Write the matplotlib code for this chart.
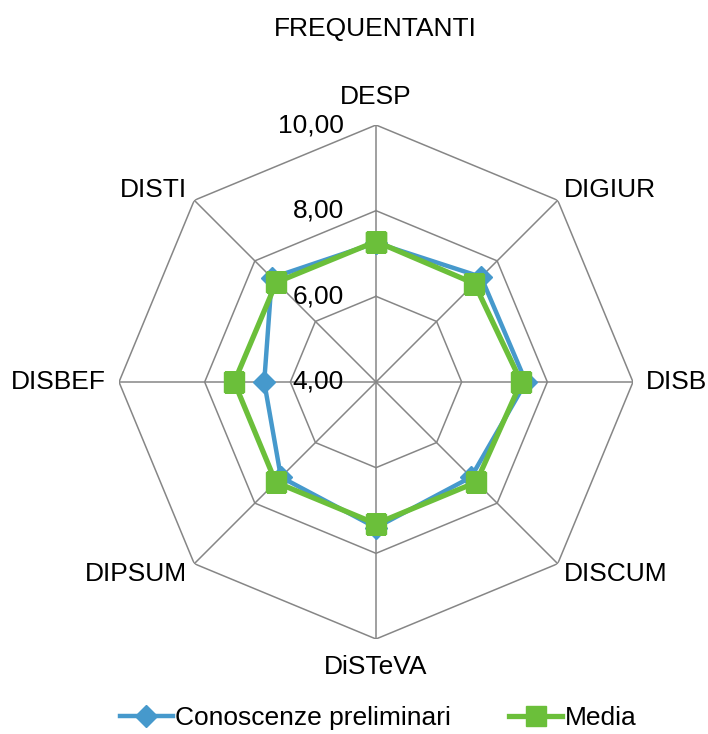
import numpy as np
import matplotlib
matplotlib.use("Agg")
import matplotlib.pyplot as plt

plt.rcParams["font.family"] = ["Liberation Sans", "DejaVu Sans"]

# data (scale 4..10)
categories = ["DESP", "DIGIUR", "DISB", "DISCUM", "DiSTeVA", "DIPSUM", "DISBEF", "DISTI"]
conoscenze = [7.25, 7.47, 7.50, 7.14, 7.40, 7.14, 6.61, 7.44]
media = [7.28, 7.25, 7.39, 7.31, 7.31, 7.31, 7.31, 7.29]
rings = [6, 8, 10]
ring_labels = ["4,00", "6,00", "8,00", "10,00"]

BLUE = "#4699CC"
GREEN = "#6BBF3A"
GRID = "#868686"
FS = 19

N = len(categories)
theta = np.arange(N) * 2 * np.pi / N
theta_c = np.append(theta, theta[0])

fig = plt.figure(figsize=(7.08, 7.34), dpi=100)
ax = fig.add_axes([119 / 708, 95 / 734, 514 / 708, 514 / 734], projection="polar")
ax.set_theta_zero_location("N")
ax.set_theta_direction(-1)
ax.set_ylim(4, 10)
ax.grid(False)
ax.spines["polar"].set_visible(False)
ax.set_xticks([])
ax.set_yticks([])
ax.patch.set_alpha(0)

# octagonal grid
for r in rings:
    ax.plot(theta_c, [r] * (N + 1), color=GRID, lw=1.1, zorder=1)
for t in theta:
    ax.plot([t, t], [4, 10], color=GRID, lw=1.1, zorder=1)

# series
ax.plot(theta_c, conoscenze + conoscenze[:1], color=BLUE, lw=3.2, marker="D",
        ms=11, zorder=3, label="Conoscenze preliminari")
ax.plot(theta_c, media + media[:1], color=GREEN, lw=3.8, marker="s",
        ms=15, zorder=4, label="Media")

# radial value labels, right-aligned left of the vertical axis
for v, lab in zip([4, 6, 8, 10], ring_labels):
    ax.annotate(lab, xy=(0, v), xytext=(-32, 0), textcoords="offset pixels",
                ha="right", va="center", fontsize=FS)

# category labels
lab_pos = {
    "DESP": ((0, 28), "center", "center"),
    "DIGIUR": ((6, 10), "left", "center"),
    "DISB": ((13, 0), "left", "center"),
    "DISCUM": ((6, -10), "left", "center"),
    "DiSTeVA": ((0, -28), "center", "center"),
    "DIPSUM": ((-7, -10), "right", "center"),
    "DISBEF": ((-13, 0), "right", "center"),
    "DISTI": ((-7, 10), "right", "center"),
}
for t, c in zip(theta, categories):
    off, ha, va = lab_pos[c]
    ax.annotate(c, xy=(t, 10), xytext=off, textcoords="offset pixels",
                ha=ha, va=va, fontsize=FS)

fig.text(0.53, 1 - 29 / 734, "FREQUENTANTI", ha="center", va="center", fontsize=FS)

fig.legend(loc="center", bbox_to_anchor=(0.534, 1 - 718 / 734), ncol=2, frameon=False,
           fontsize=FS, handlelength=2.0, handletextpad=0.1, columnspacing=2.2)

fig.savefig("out.png", dpi=100)
